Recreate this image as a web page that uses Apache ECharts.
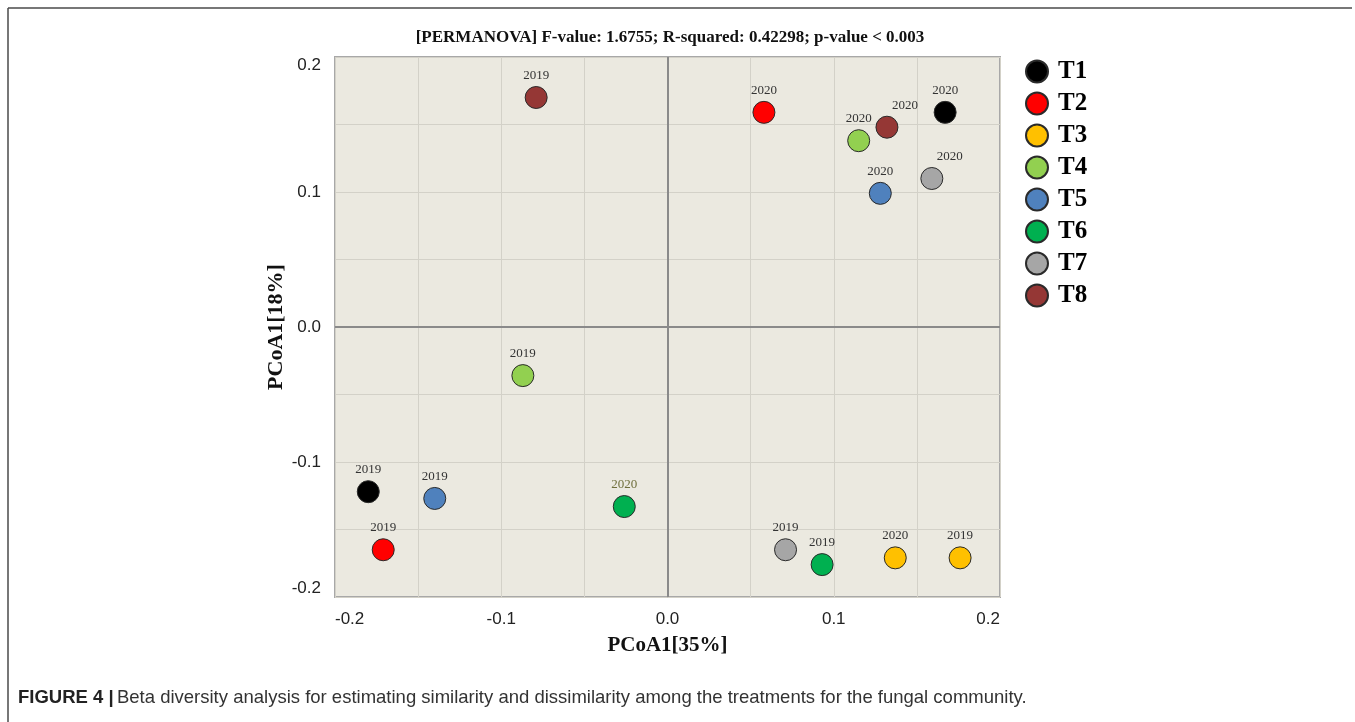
<!DOCTYPE html>
<html>

<head>
    <meta charset="UTF-8">
    <title>PCoA beta diversity</title>
    <script src="https://cdn.jsdelivr.net/npm/echarts@6/dist/echarts.min.js"></script>
    <style>
        html, body { margin: 0; padding: 0; background: #fff; }
    </style>
</head>

<body>
    <div id="pcoaBox" style="width: 1355px;height:722px;"></div>

    <script>
        // treatments and their colours
        var treatments = ['T1', 'T2', 'T3', 'T4', 'T5', 'T6', 'T7', 'T8'];
        var colors = ['#000000', '#ff0000', '#ffc000', '#92d050', '#4f81bd', '#00b050', '#a6a6a6', '#953735'];
        var years = ['2019', '2020'];

        // PCoA coordinates
        var x2019 = [-0.180, -0.171, 0.176, -0.087, -0.140, 0.093, 0.071, -0.079];
        var y2019 = [-0.122, -0.165, -0.171, -0.036, -0.127, -0.176, -0.165, 0.170];
        var x2020 = [0.167, 0.058, 0.137, 0.115, 0.128, -0.026, 0.159, 0.132];
        var y2020 = [0.159, 0.159, -0.171, 0.138, 0.099, -0.133, 0.110, 0.148];

        var titleText = '[PERMANOVA] F-value: 1.6755; R-squared: 0.42298; p-value < 0.003';
        var xName = 'PCoA1[35%]';
        var yName = 'PCoA1[18%]';

        // labels that sit to the right of their point
        var shiftedLabels = { 'T7-2020': [18, 0], 'T8-2020': [18, 0] };

        function tickText(v) {
            var r = Math.round(v * 100);
            if (Math.abs(r) % 10 !== 0) return '';
            return (Math.round(v * 10) / 10).toFixed(1);
        }

        function pcoaChart(idname) {
            var myChart = echarts.init(document.getElementById(idname));

            var series = treatments.map(function (name, i) {
                var pts = [[x2019[i], y2019[i], years[0]], [x2020[i], y2020[i], years[1]]];
                var data = pts.map(function (p) {
                    var item = { value: p };
                    var key = name + '-' + p[2];
                    if (shiftedLabels[key]) item.label = { offset: shiftedLabels[key] };
                    if (key === 'T6-2020') item.label = { color: '#6f6f3c' };
                    return item;
                });
                var s = {
                    name: name,
                    type: 'scatter',
                    symbolSize: 22,
                    itemStyle: {
                        color: colors[i],
                        borderColor: '#2a2a2a',
                        borderWidth: 1,
                        opacity: 1
                    },
                    label: {
                        show: true,
                        position: 'top',
                        distance: 4,
                        formatter: function (p) { return p.value[2]; },
                        fontFamily: 'Liberation Serif',
                        fontSize: 13,
                        color: '#333'
                    },
                    data: data
                };
                if (i === 0) {
                    s.markLine = {
                        silent: true,
                        symbol: ['none', 'none'],
                        label: { show: false },
                        lineStyle: { color: '#8a8a8a', width: 2, type: 'solid' },
                        data: [{ xAxis: 0 }, { yAxis: 0 }]
                    };
                }
                return s;
            });

            var option = {
                backgroundColor: '#ffffff',
                animation: false,
                grid: {
                    left: 335,
                    right: 355,
                    top: 57,
                    bottom: 125,
                    show: true,
                    backgroundColor: '#ebe9e0',
                    borderColor: '#a8a8a8',
                    borderWidth: 2
                },
                legend: {
                    orient: 'vertical',
                    left: 1020,
                    top: 54,
                    itemWidth: 24,
                    itemHeight: 22,
                    itemGap: 7,
                    icon: 'circle',
                    data: treatments,
                    textStyle: {
                        fontFamily: 'Liberation Serif',
                        fontWeight: 'bold',
                        fontSize: 25,
                        lineHeight: 24,
                        color: '#000',
                        padding: [0, 0, 0, 4]
                    }
                },
                xAxis: {
                    type: 'value',
                    min: -0.2,
                    max: 0.2,
                    interval: 0.05,
                    name: xName,
                    nameLocation: 'middle',
                    nameGap: 38,
                    nameTextStyle: {
                        fontFamily: 'Liberation Serif',
                        fontWeight: 'bold',
                        fontSize: 21,
                        color: '#111'
                    },
                    axisLine: { show: false },
                    axisTick: { show: false },
                    splitLine: { lineStyle: { color: '#d3d1c8', width: 1 } },
                    axisLabel: {
                        margin: 14,
                        fontFamily: 'Liberation Sans',
                        fontSize: 17,
                        color: '#222',
                        alignMinLabel: 'left',
                        alignMaxLabel: 'right',
                        formatter: tickText
                    }
                },
                yAxis: {
                    type: 'value',
                    min: -0.2,
                    max: 0.2,
                    interval: 0.05,
                    name: yName,
                    nameLocation: 'middle',
                    nameGap: 42,
                    nameTextStyle: {
                        fontFamily: 'Liberation Serif',
                        fontWeight: 'bold',
                        fontSize: 22,
                        color: '#111'
                    },
                    axisLine: { show: false },
                    axisTick: { show: false },
                    splitLine: { lineStyle: { color: '#d3d1c8', width: 1 } },
                    axisLabel: {
                        margin: 14,
                        fontFamily: 'Liberation Sans',
                        fontSize: 17,
                        color: '#222',
                        verticalAlignMinLabel: 'bottom',
                        verticalAlignMaxLabel: 'top',
                        formatter: tickText
                    }
                },
                graphic: [
                    {
                        type: 'line',
                        silent: true,
                        shape: { x1: 8, y1: 8, x2: 1352, y2: 8 },
                        style: { stroke: '#4a4a4a', lineWidth: 1.5 }
                    },
                    {
                        type: 'line',
                        silent: true,
                        shape: { x1: 8, y1: 8, x2: 8, y2: 722 },
                        style: { stroke: '#4a4a4a', lineWidth: 1.5 }
                    },
                    {
                        type: 'text',
                        silent: true,
                        x: 670,
                        y: 38,
                        style: {
                            text: titleText,
                            align: 'center',
                            verticalAlign: 'middle',
                            fontFamily: 'Liberation Serif',
                            fontWeight: 'bold',
                            fontSize: 17,
                            fill: '#111'
                        }
                    },
                    {
                        type: 'text',
                        silent: true,
                        x: 18,
                        y: 698,
                        style: {
                            text: '{b|FIGURE 4 |} {n|Beta diversity analysis for estimating similarity and dissimilarity among the treatments for the fungal community.}',
                            verticalAlign: 'middle',
                            rich: {
                                b: { fontFamily: 'Liberation Sans', fontWeight: 'bold', fontSize: 18.5, fill: '#222' },
                                n: { fontFamily: 'Liberation Sans', fontSize: 18.5, fill: '#333' }
                            }
                        }
                    }
                ],
                series: series
            };

            myChart.setOption(option);
        }

        pcoaChart('pcoaBox');
    </script>

</body>

</html>
